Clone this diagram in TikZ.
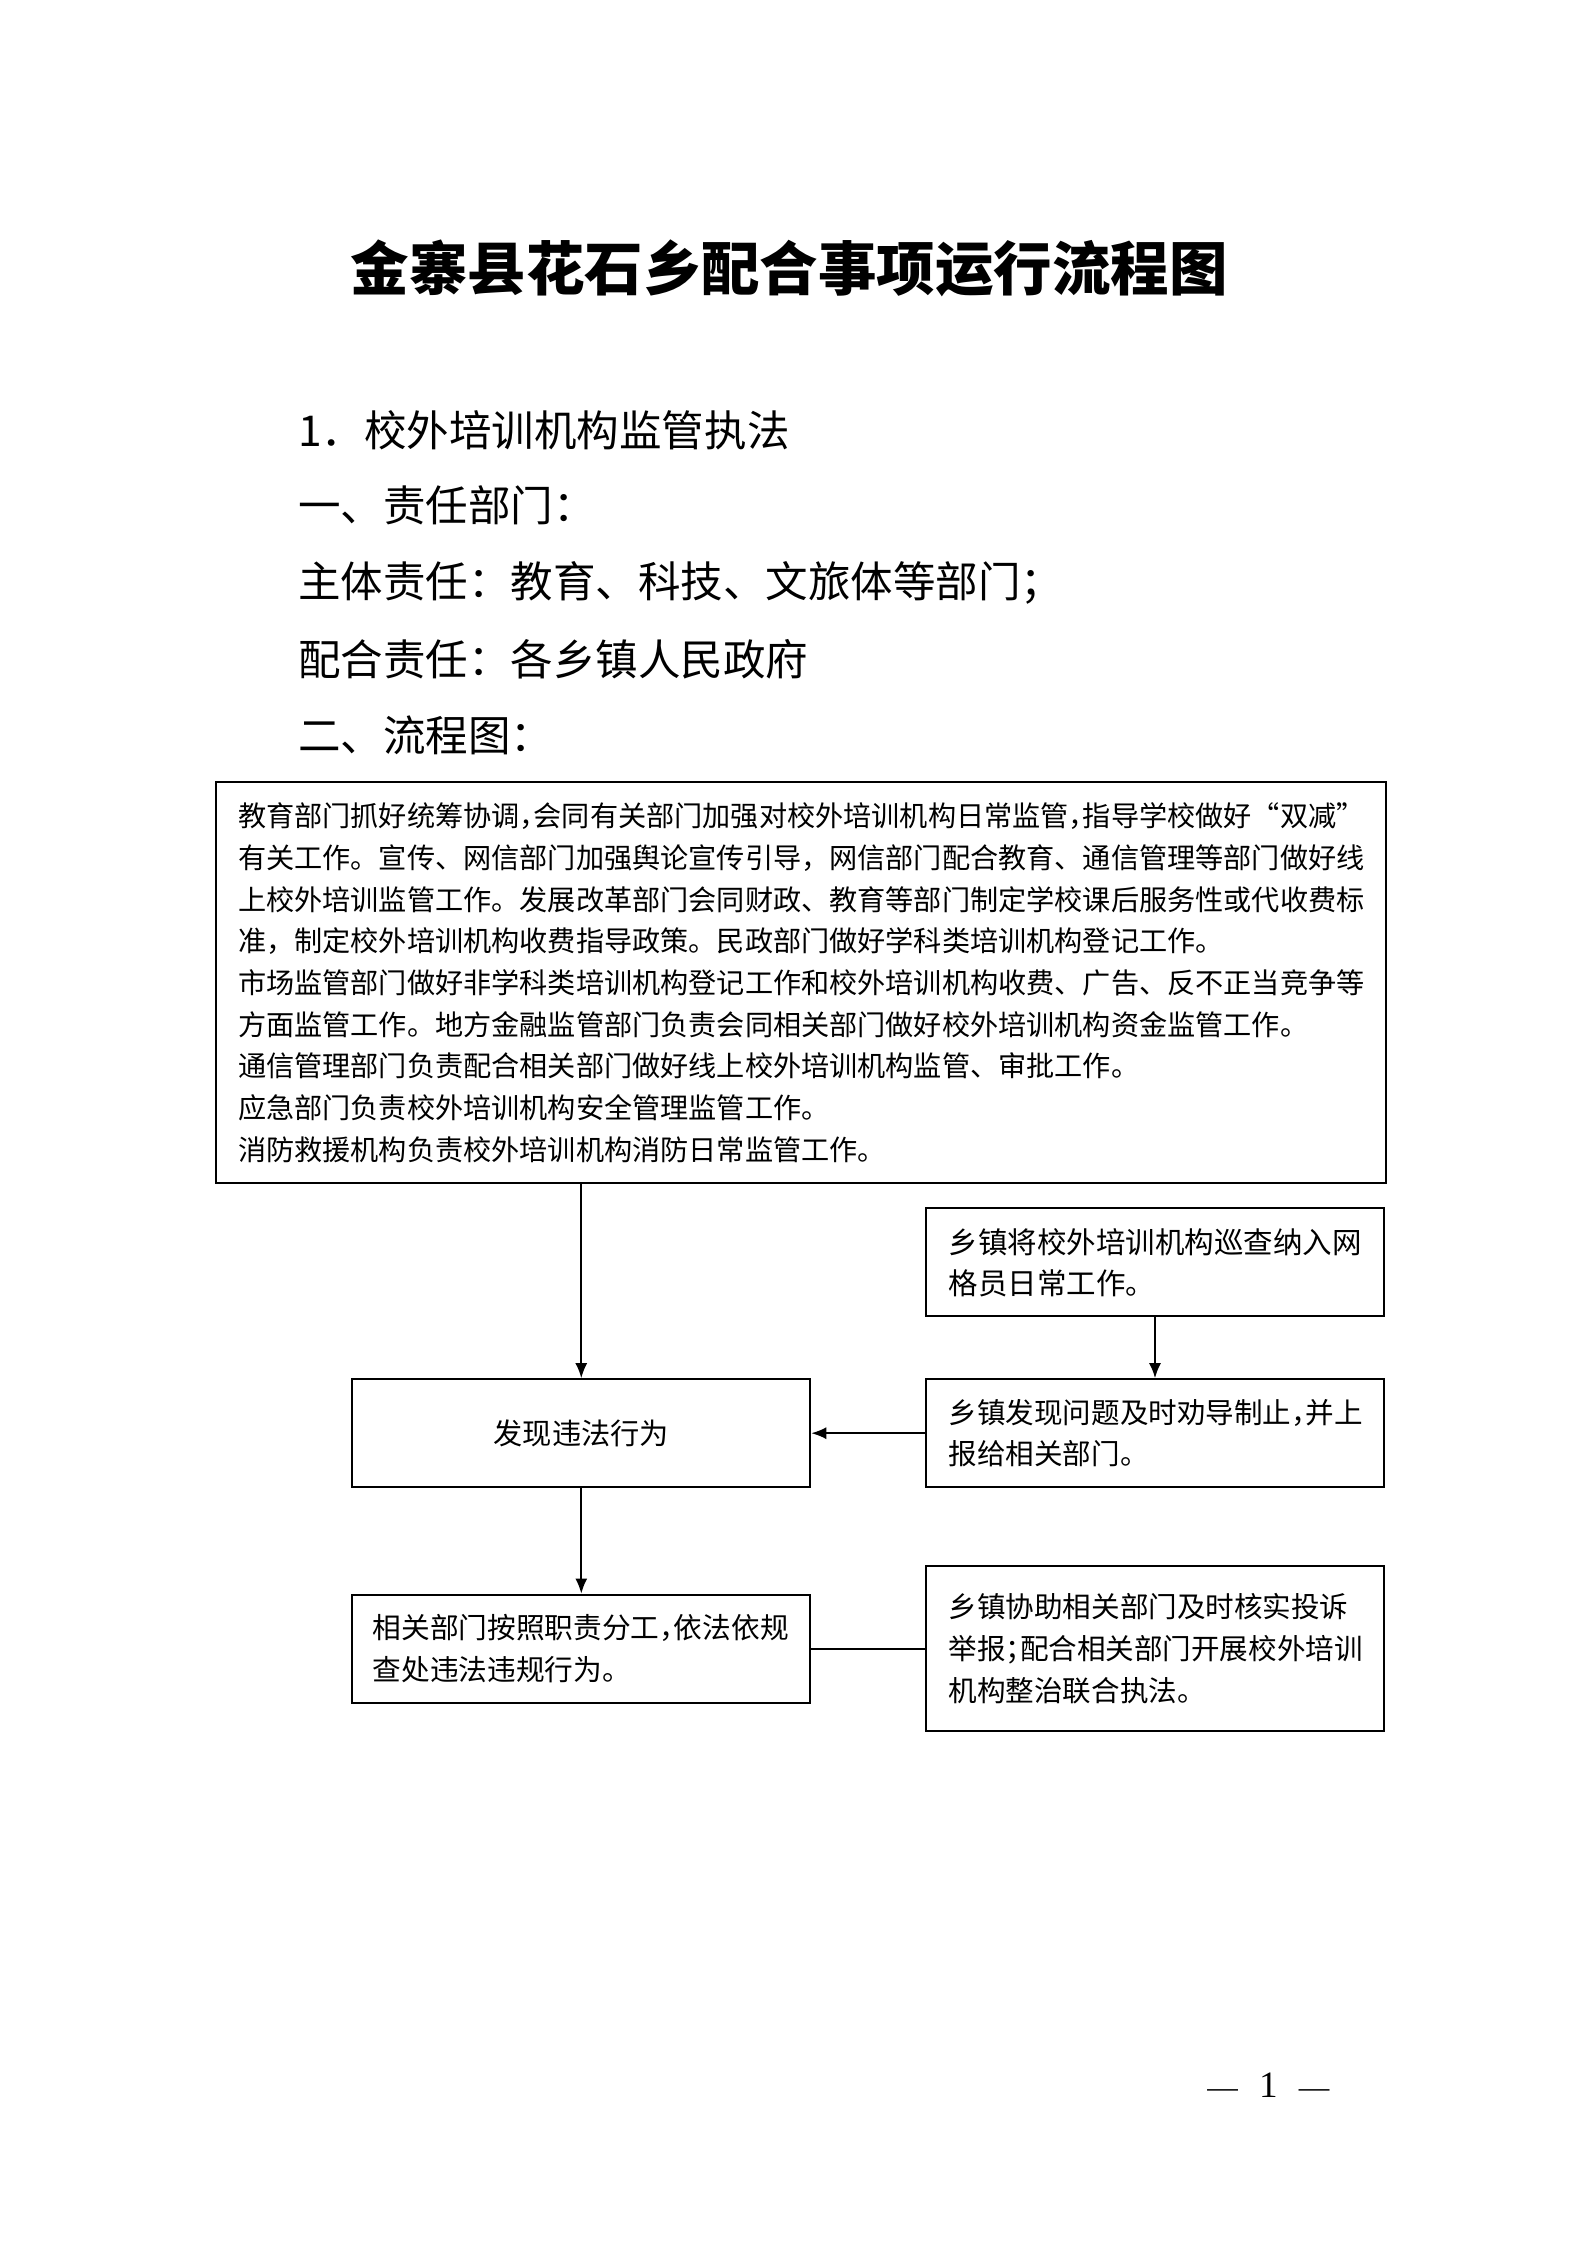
\documentclass[tikz,border=0pt]{standalone}
\usepackage{fontspec}
\setmainfont{Noto Sans CJK SC}
\newfontfamily\numfont{Liberation Serif}
\usetikzlibrary{arrows.meta,positioning}
\newcommand{\halfpunct}[1]{#1\kern-.5em}

\begin{document}
\begin{tikzpicture}[
    txtbox/.style={draw, line width=0.7pt, align=left, inner xsep=0.3cm, minimum height=1.43cm},
    headline/.style={anchor=west, inner sep=0pt, font=\fontsize{16pt}{20pt}\selectfont},
    link/.style={line width=0.7pt},
    tip/.style={-{Latex[length=2mm, width=1.6mm]}}
]
    \useasboundingbox (0, 0) rectangle (21, -29.7);

    % Title and headings
    \node[font=\fontsize{22pt}{26pt}\selectfont\bfseries] (title) at (10.44, -3.55) {金寨县花石乡配合事项运行流程图};
    \node[headline] (item) at (3.94, -5.69) {1．校外培训机构监管执法};
    \node[headline] (dept) at (3.94, -6.68) {一、责任部门：};
    \node[headline] (main) at (3.94, -7.71) {主体责任：教育、科技、文旅体等部门；};
    \node[headline] (help) at (3.94, -8.72) {配合责任：各乡镇人民政府};
    \node[headline] (flow) at (3.94, -9.73) {二、流程图：};

    % Duties of the departments
    \node[txtbox, inner xsep=0.29cm, text width=14.9cm, minimum height=5.31cm,
          font=\fontsize{10.6pt}{15.7pt}\selectfont] (duty) at (10.60, -13.00) {%
        教育部门抓好统筹协调\halfpunct{，}会同有关部门加强对校外培训机构日常监管\halfpunct{，}指导学校做好“双减”\\
        有关工作。宣传、网信部门加强舆论宣传引导，网信部门配合教育、通信管理等部门做好线\\
        上校外培训监管工作。发展改革部门会同财政、教育等部门制定学校课后服务性或代收费标\\
        准，制定校外培训机构收费指导政策。民政部门做好学科类培训机构登记工作。\\
        市场监管部门做好非学科类培训机构登记工作和校外培训机构收费、广告、反不正当竞争等\\
        方面监管工作。地方金融监管部门负责会同相关部门做好校外培训机构资金监管工作。\\
        通信管理部门负责配合相关部门做好线上校外培训机构监管、审批工作。\\
        应急部门负责校外培训机构安全管理监管工作。\\
        消防救援机构负责校外培训机构消防日常监管工作。};

    % Flow boxes
    \node[txtbox, align=center, text width=5.46cm, font=\fontsize{11pt}{15.5pt}\selectfont] (find) at (7.69, -18.96) {发现违法行为};
    \node[txtbox, inner xsep=0.27cm, text width=5.52cm, font=\fontsize{10.8pt}{15.5pt}\selectfont] (handle) at (7.69, -21.81) {相关部门按照职责分工\halfpunct{，}依法依规\\查处违法违规行为。};
    \node[txtbox, text width=5.46cm, font=\fontsize{11.1pt}{15.5pt}\selectfont] (patrol) at (15.28, -16.70) {乡镇将校外培训机构巡查纳入网\\格员日常工作。};
    \node[txtbox, text width=5.46cm, font=\fontsize{10.75pt}{15.5pt}\selectfont] (report) at (15.28, -18.96) {乡镇发现问题及时劝导制止\halfpunct{，}并上\\报给相关部门。};
    \node[txtbox, text width=5.46cm, minimum height=2.18cm, font=\fontsize{10.75pt}{15.8pt}\selectfont] (assist) at (15.28, -21.81) {乡镇协助相关部门及时核实投诉\\举报\halfpunct{；}配合相关部门开展校外培训\\机构整治联合执法。\\[2pt]};

    % Connectors
    \draw[link, tip] (duty.south -| find.north) -- (find.north);
    \draw[link, tip] (patrol) -- (report);
    \draw[link, tip] (report) -- (find);
    \draw[link, tip] (find) -- (handle);
    \draw[link] (handle) -- (assist);

    % Page number
    \node[font=\numfont\fontsize{14pt}{16pt}\selectfont] (pageno) at (16.78, -27.58)
        {{\fontsize{11.5pt}{14pt}\selectfont —}\hspace{8pt}1\hspace{8pt}{\fontsize{11.5pt}{14pt}\selectfont —}};
\end{tikzpicture}
\end{document}
